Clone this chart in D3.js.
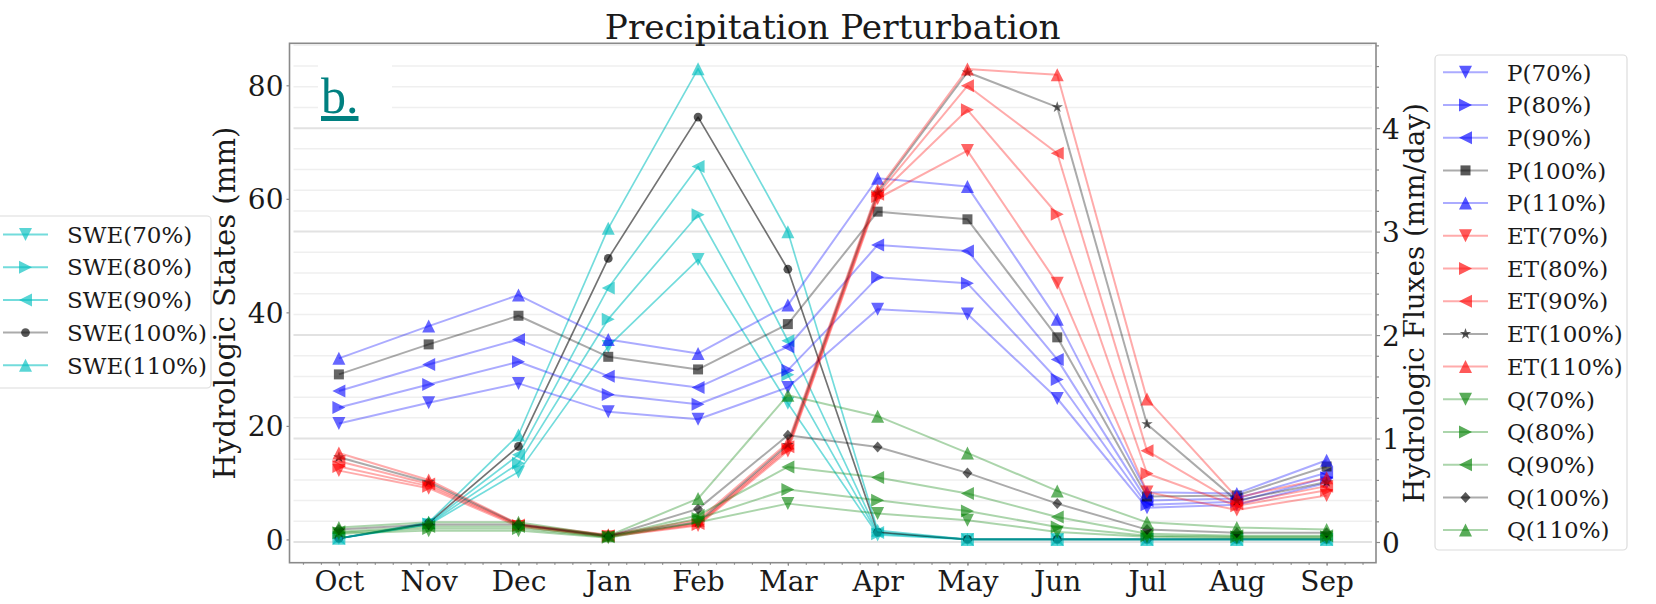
<!DOCTYPE html>
<html><head><meta charset="utf-8">
<script src="https://cdn.jsdelivr.net/npm/d3@7"></script>
<style>
html,body{margin:0;padding:0;background:#fff;}
svg{display:block;}
text{font-family:"DejaVu Serif",serif;fill:#1a1a1a;}
</style></head>
<body>
<svg id="chart" width="1656" height="604"></svg>
<script>
// ---------- data ----------
const months = ["Oct","Nov","Dec","Jan","Feb","Mar","Apr","May","Jun","Jul","Aug","Sep"];
const leftTicks = [0, 20, 40, 60, 80];
const rightTicks = [0, 1, 2, 3, 4];

const swe70  = [0.2, 2.6, 11.9, 34.0, 49.3, 24.0, 0.8, 0, 0, 0, 0, 0];
const swe80  = [0.2, 2.7, 13.4, 38.8, 57.2, 29.0, 1.0, 0, 0, 0, 0, 0];
const swe90  = [0.2, 2.8, 14.9, 44.3, 65.7, 35.0, 1.2, 0, 0, 0, 0, 0];
const swe100 = [0.2, 2.9, 16.4, 49.5, 74.4, 47.6, 1.3, 0, 0, 0, 0, 0];
const swe110 = [0.2, 3.0, 18.4, 54.8, 82.9, 54.2, 1.6, 0, 0, 0, 0, 0];

const p70  = [1.145, 1.345, 1.533, 1.258, 1.187, 1.494, 2.249, 2.203, 1.387, 0.33, 0.36, 0.57];
const p80  = [1.300, 1.523, 1.742, 1.426, 1.332, 1.661, 2.558, 2.500, 1.571, 0.36, 0.39, 0.62];
const p90  = [1.460, 1.716, 1.958, 1.603, 1.494, 1.887, 2.871, 2.813, 1.765, 0.40, 0.42, 0.67];
const p100 = [1.620, 1.910, 2.187, 1.790, 1.668, 2.106, 3.193, 3.119, 1.978, 0.44, 0.45, 0.73];
const p110 = [1.775, 2.087, 2.387, 1.958, 1.823, 2.290, 3.516, 3.435, 2.152, 0.48, 0.47, 0.79];

const et70  = [0.69, 0.52, 0.150, 0.050, 0.16, 0.88, 3.32, 3.783, 2.500, 0.484, 0.31, 0.45];
const et80  = [0.73, 0.54, 0.160, 0.055, 0.17, 0.90, 3.34, 4.177, 3.168, 0.662, 0.35, 0.50];
const et90  = [0.78, 0.56, 0.165, 0.060, 0.18, 0.92, 3.36, 4.409, 3.758, 0.881, 0.37, 0.54];
const et100 = [0.82, 0.58, 0.170, 0.065, 0.19, 0.94, 3.38, 4.540, 4.203, 1.139, 0.40, 0.58];
const et110 = [0.86, 0.60, 0.175, 0.070, 0.21, 0.96, 3.40, 4.571, 4.516, 1.381, 0.43, 0.62];

const q70  = [0.08, 0.11, 0.11, 0.040, 0.190, 0.371, 0.275, 0.210, 0.097, 0.05, 0.04, 0.04];
const q80  = [0.09, 0.13, 0.13, 0.045, 0.226, 0.507, 0.403, 0.300, 0.145, 0.06, 0.05, 0.05];
const q90  = [0.10, 0.15, 0.15, 0.050, 0.258, 0.726, 0.623, 0.468, 0.242, 0.08, 0.06, 0.06];
const q100 = [0.12, 0.17, 0.17, 0.055, 0.320, 1.032, 0.919, 0.668, 0.371, 0.12, 0.09, 0.09];
const q110 = [0.14, 0.19, 0.19, 0.060, 0.420, 1.419, 1.216, 0.861, 0.494, 0.19, 0.14, 0.12];

// ---------- styling ----------
const C = {swe:"#00bfbf", p:"#0000ff", et:"#ff0000", q:"#008000", k:"#000000"};
const sweSeries = [
  {name:"SWE(70%)",  v:swe70,  c:C.swe, m:"v"},
  {name:"SWE(80%)",  v:swe80,  c:C.swe, m:">"},
  {name:"SWE(90%)",  v:swe90,  c:C.swe, m:"<"},
  {name:"SWE(100%)", v:swe100, c:C.k,   m:"o"},
  {name:"SWE(110%)", v:swe110, c:C.swe, m:"^"}
];
const fluxSeries = [
  {name:"P(70%)",   v:p70,   c:C.p, m:"v"},
  {name:"P(80%)",   v:p80,   c:C.p, m:">"},
  {name:"P(90%)",   v:p90,   c:C.p, m:"<"},
  {name:"P(100%)",  v:p100,  c:C.k, m:"s"},
  {name:"P(110%)",  v:p110,  c:C.p, m:"^"},
  {name:"ET(70%)",  v:et70,  c:C.et, m:"v"},
  {name:"ET(80%)",  v:et80,  c:C.et, m:">"},
  {name:"ET(90%)",  v:et90,  c:C.et, m:"<"},
  {name:"ET(100%)", v:et100, c:C.k,  m:"*"},
  {name:"ET(110%)", v:et110, c:C.et, m:"^"},
  {name:"Q(70%)",   v:q70,   c:C.q, m:"v"},
  {name:"Q(80%)",   v:q80,   c:C.q, m:">"},
  {name:"Q(90%)",   v:q90,   c:C.q, m:"<"},
  {name:"Q(100%)",  v:q100,  c:C.k, m:"D"},
  {name:"Q(110%)",  v:q110,  c:C.q, m:"^"}
];

function markerPath(m){
  const t = 6.5;
  switch(m){
    case "v": return `M0,${t}L${-t},${-t}L${t},${-t}Z`;
    case "^": return `M0,${-t}L${-t},${t}L${t},${t}Z`;
    case ">": return `M${t},0L${-t},${-t}L${-t},${t}Z`;
    case "<": return `M${-t},0L${t},${-t}L${t},${t}Z`;
    case "s": return "M-5,-5L5,-5L5,5L-5,5Z";
    case "D": return "M0,-5.5L5,0L0,5.5L-5,0Z";
    case "o": return d3.symbol(d3.symbolCircle, 60)();
    case "*": return d3.symbol(d3.symbolStar, 40)();
  }
}

// ---------- layout ----------
const svg = d3.select("#chart");
const L = 289.5, R = 1376, T = 43.3, B = 562.7;
const x  = d3.scaleLinear().domain([-0.55, 11.55]).range([L, R]);
const yL = d3.scaleLinear().domain([-4.1, 87.4]).range([B, T]);
const yR = d3.scaleLinear().domain([-0.2, 4.82]).range([B, T]);

// gridlines (right axis, major + minor)
const gridVals = d3.range(0, 4.81, 0.2);
const isMajor = d=>Math.abs(d-Math.round(d))<1e-6;
svg.append("g").selectAll("line").data(gridVals).join("line")
  .attr("x1", L+4).attr("x2", R-4)
  .attr("y1", d=>yR(d)).attr("y2", d=>yR(d))
  .attr("stroke", d=>isMajor(d) ? "#e2e2e2" : "#efefef")
  .attr("stroke-width", d=>isMajor(d) ? 2 : 1.5);

// white box behind panel label
svg.append("rect").attr("x",318).attr("y",57).attr("width",74).attr("height",56).attr("fill","#fff");

const line = (ys)=> d3.line().x((d,i)=>x(i)).y(d=>ys(d));

function drawSeries(g, series, ys, lw, lop, mop){
  series.forEach(s=>{
    const gg = g.append("g");
    gg.append("path").datum(s.v).attr("d", line(ys))
      .attr("fill","none").attr("stroke", s.c).attr("stroke-width", lw)
      .attr("stroke-opacity", lop).attr("stroke-linejoin","round");
    gg.selectAll("path.mk").data(s.v).join("path").attr("class","mk")
      .attr("d", markerPath(s.m))
      .attr("transform",(d,i)=>`translate(${x(i)},${ys(d)})`)
      .attr("fill", s.c).attr("fill-opacity", mop);
  });
}
const gL = svg.append("g");
drawSeries(gL, sweSeries, yL, 1.7, 0.55, 0.65);
const gR = svg.append("g");
drawSeries(gR, fluxSeries, yR, 2, 0.33, 0.6);

// panel label
svg.append("text").attr("x",321).attr("y",113)
  .style("font-family","'Liberation Serif',serif").style("font-size","50px")
  .style("fill","#008080").style("text-decoration","underline").text("b.");

// spines
svg.append("rect").attr("x",L).attr("y",T).attr("width",R-L).attr("height",B-T)
  .attr("fill","none").attr("stroke","#8a8a8a").attr("stroke-width",1.6);

// axes
const axX = d3.axisBottom(x).tickValues(d3.range(12)).tickFormat(i=>months[i]).tickSize(3).tickPadding(5);
const gx = svg.append("g").attr("transform",`translate(0,${B})`).call(axX);
const axXm = d3.axisBottom(x).tickValues(d3.range(-0.4, 11.5, 0.2)).tickFormat("").tickSize(2);
svg.append("g").attr("transform",`translate(0,${B})`).call(axXm);

const axL = d3.axisLeft(yL).tickValues(leftTicks).tickFormat(d3.format("d")).tickSize(3).tickPadding(3);
const gl = svg.append("g").attr("transform",`translate(${L},0)`).call(axL);

const axR = d3.axisRight(yR).tickValues(rightTicks).tickFormat(d3.format("d")).tickSize(4).tickPadding(2);
const gr = svg.append("g").attr("transform",`translate(${R},0)`).call(axR);
const axRm = d3.axisRight(yR).tickValues(gridVals.filter(d=>!isMajor(d))).tickFormat("").tickSize(3);
svg.append("g").attr("transform",`translate(${R},0)`).call(axRm);

svg.selectAll(".domain").remove();
svg.selectAll(".tick line").attr("stroke","#8a8a8a").attr("stroke-width",1.2);
[gx,gl,gr].forEach(g=>g.selectAll("text").style("font-family","'DejaVu Serif',serif").style("font-size","28px").attr("fill","#1a1a1a"));
gx.selectAll("text").attr("dy",null).attr("y",28);
gl.selectAll("text").attr("dy","0.36em");
gr.selectAll("text").attr("dy","0.36em");

// text fit helper
function fitText(sel, target){
  const n = sel.node();
  const w = n.getComputedTextLength();
  const fs = parseFloat(sel.style("font-size"));
  sel.style("font-size", (fs*target/w).toFixed(2)+"px");
}

const title = svg.append("text").attr("x",(L+R)/2).attr("y",38.5).attr("text-anchor","middle")
  .style("font-size","30px").text("Precipitation Perturbation");
fitText(title, 456);

const yl = svg.append("text").attr("transform","translate(235,303) rotate(-90)").attr("text-anchor","middle")
  .style("font-size","28px").text("Hydrologic States (mm)");
fitText(yl, 353);
const yr = svg.append("text").attr("transform","translate(1424,303) rotate(-90)").attr("text-anchor","middle")
  .style("font-size","28px").text("Hydrologic Fluxes (mm/day)");
fitText(yr, 400);

// legends
function legend(series, x0, y0, boxX, boxY, boxW, boxH){
  const g = svg.append("g");
  g.append("rect").attr("x",boxX).attr("y",boxY).attr("width",boxW).attr("height",boxH)
    .attr("rx",4).attr("fill","#fff").attr("fill-opacity",0.85).attr("stroke","#dcdcdc").attr("stroke-width",1.2);
  series.forEach((s,i)=>{
    const yy = y0 + i*32.7;
    const isSWE = s.c===C.swe;
    g.append("line").attr("x1",x0).attr("x2",x0+45).attr("y1",yy).attr("y2",yy)
      .attr("stroke",s.c).attr("stroke-width",2).attr("stroke-opacity", isSWE?0.55:0.33);
    g.append("path").attr("d",markerPath(s.m)).attr("transform",`translate(${x0+22.5},${yy})`)
      .attr("fill",s.c).attr("fill-opacity",0.65);
    g.append("text").attr("x",x0+64).attr("y",yy).attr("dy","0.36em")
      .style("font-size","23px").text(s.name);
  });
}
legend(sweSeries, 3, 234.5, -6, 216, 217, 172);
legend(fluxSeries, 1443, 72.3, 1435, 55, 192, 495);
</script>
</body></html>
